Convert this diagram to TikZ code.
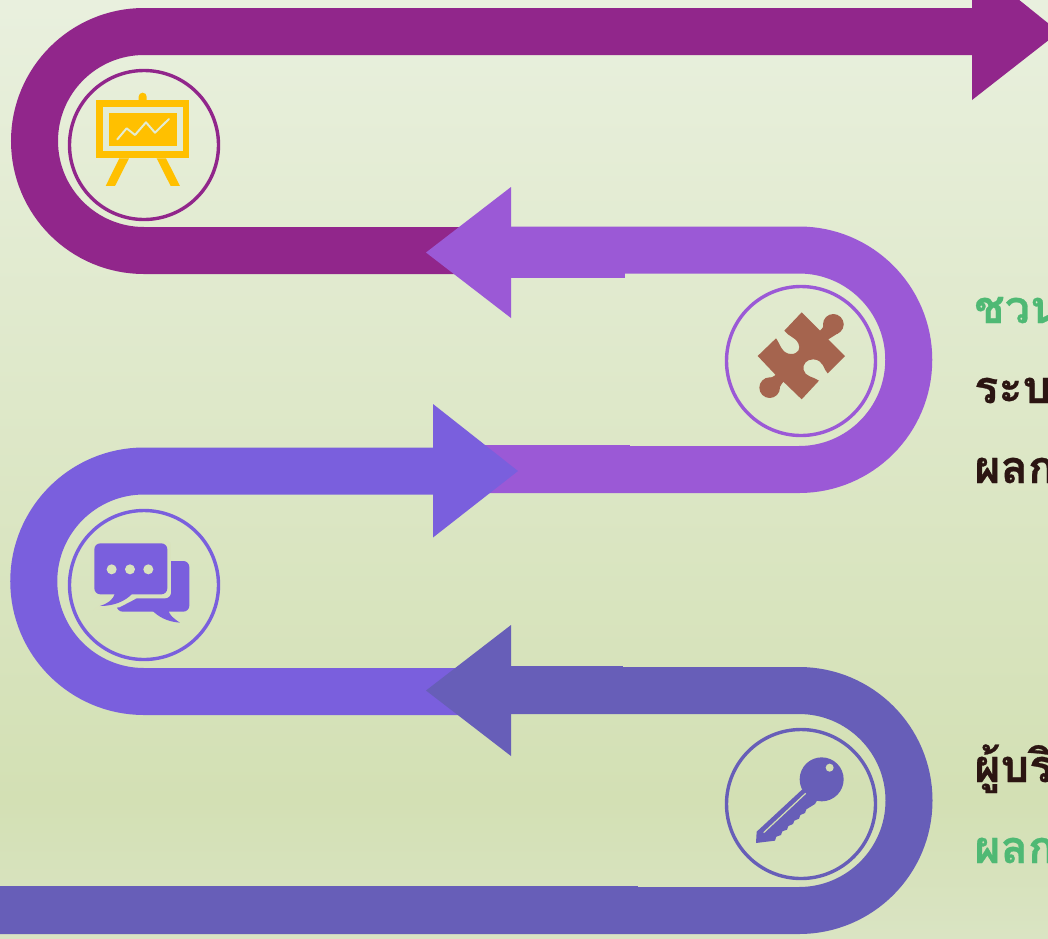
\documentclass[tikz,border=0pt]{standalone}
\usepackage{fontspec}
\newfontfamily\thaifont[Script=Thai,BoldFeatures={FakeBold=0.6}]{Loma}
\definecolor{bgA}{HTML}{E9F0DE}
\definecolor{bgB}{HTML}{D3E0B4}
\definecolor{bgC}{HTML}{DAE4C3}
\definecolor{gapA}{HTML}{D9E3BD}
\definecolor{gapB}{HTML}{D3DFB3}
\definecolor{ribA}{HTML}{91268B}
\definecolor{ribB}{HTML}{9B59D6}
\definecolor{ribC}{HTML}{7A5FDD}
\definecolor{ribD}{HTML}{675EB8}
\definecolor{iconY}{HTML}{FFC000}
\definecolor{iconB}{HTML}{A5644E}
\definecolor{txtG}{HTML}{4FB974}
\definecolor{txtD}{HTML}{2B1512}
\tikzset{
  band/.style={line width=47pt,line cap=butt},
  ring/.style={circle,draw,line width=3.4pt,minimum size=149pt,inner sep=0pt},
  lab/.style={anchor=base west,font=\thaifont\bfseries\fontsize{45}{45}\selectfont,inner sep=0pt},
  zoomed/.style={shift={#1},x=0.3333pt,y=-0.3333pt},
}
\begin{document}
\begin{tikzpicture}[x=1pt,y=-1pt]
\useasboundingbox (0,0) rectangle (1048,938);
\clip (0,0) rectangle (1048,938);
\shade[top color=bgA,bottom color=bgB] (0,0) rectangle (1048,800);
\shade[top color=bgB,bottom color=bgC] (0,800) rectangle (1048,938);
% ribbon 1
\coordinate (a1) at (1000,31.5);
\coordinate (a2) at (470,250.5);
\draw[band,ribA] (a1) -- (144,31.5) arc[start angle=-90,end angle=-270,radius=109.5] -- (a2);
\fill[ribA] (972,-38) -- (1059,32) -- (972,100) -- cycle;
% ribbon 2
\coordinate (b1) at (500,250);
\coordinate (b2) at (470,469.5);
\draw[band,ribB] (b1) -- (799,250) arc[start angle=-90,end angle=90,radius=109.75] -- (b2);
\fill[ribB] (500,226.5) rectangle (625,278);
\fill[ribB] (470,445) rectangle (630,493);
\fill[ribB] (511,187) -- (426,252.5) -- (511,318) -- cycle;
% ribbon 3
\coordinate (c1) at (450,471);
\coordinate (c2) at (470,691.5);
\draw[band,ribC] (c1) -- (144,471) arc[start angle=-90,end angle=-270,radius=110.25] -- (c2);
\fill[ribC] (433,404) -- (518,471) -- (433,537.5) -- cycle;
% ribbon 4
\coordinate (d1) at (500,690.5);
\coordinate (d2) at (0,910.5);
\draw[band,ribD] (d1) -- (799,690.5) arc[start angle=-90,end angle=90,radius=110] -- (d2);
\fill[ribD] (500,666) rectangle (623,712);
\fill[ribD] (0,886) rectangle (638,934);
\fill[ribD] (511,625) -- (426,690.5) -- (511,756) -- cycle;
% rings
\node[ring,draw=ribA] (r1) at (144,145) {};
\node[ring,draw=ribB] (r2) at (801,361) {};
\node[ring,draw=ribC] (r3) at (144,585) {};
\node[ring,draw=ribD] (r4) at (801,804) {};
% easel icon
\begin{scope}[zoomed={(60,60)}]
\fill[iconY] (107,120) rectangle (388,295);
\fill[bgA!75!bgB] (130,142) rectangle (368,272);
\fill[iconY] (147,158) rectangle (350,257);
\fill[iconY] (236,125) -- (236,110) arc[start angle=180,end angle=360,radius=12] -- (260,125) -- cycle;
\draw[bgA!75!bgB,line width=2pt,line cap=round,line join=round] (172,238) -- (200,205) -- (225,225) -- (258,187) -- (285,218) -- (327,177);
\fill[iconY] (178,295) -- (207,295) -- (165,378) -- (137,378) -- cycle;
\fill[iconY] (290,295) -- (318,295) -- (360,378) -- (332,378) -- cycle;
\end{scope}
% puzzle icon
\begin{scope}[zoomed={(715,280)}]
\fill[iconB] (355,133) circle[radius=31];
\fill[iconB] (164,323) circle[radius=31];
\fill[iconB] (260,97) -- (315,152) .. controls (330,140) and (325,130) .. (328,122)
 -- (384,125) .. controls (392,150) and (360,165) .. (340,178)
 -- (390,228) -- (338,280) .. controls (325,270) and (328,240) .. (295,238)
 .. controls (275,238) and (262,252) .. (266,270) .. controls (270,290) and (295,290) .. (312,302)
 -- (260,358) -- (205,305) .. controls (195,315) and (190,340) .. (170,352)
 -- (140,308) .. controls (150,295) and (170,295) .. (182,285)
 -- (128,228) -- (183,175) .. controls (195,190) and (200,222) .. (228,222)
 .. controls (250,222) and (258,205) .. (250,190) .. controls (240,170) and (220,170) .. (208,152) -- cycle;
\end{scope}
% chat icon
\begin{scope}[zoomed={(60,500)}]
\fill[ribC,rounded corners=6pt] (170,183) rectangle (388,335);
\fill[ribC] (275,330) .. controls (295,350) and (320,365) .. (360,368) .. controls (340,355) and (328,345) .. (325,330) -- cycle;
\fill[gapA,rounded corners=6pt] (92,120) rectangle (333,295);
\fill[gapA] (150,290) -- (100,330) -- (178,322) -- (230,295) -- cycle;
\fill[ribC,rounded corners=6pt] (103,130) rectangle (322,283);
\fill[ribC] (165,280) .. controls (160,300) and (140,312) .. (120,318) .. controls (160,318) and (195,305) .. (218,280) -- cycle;
\foreach \px in {155,210,265} \fill[gapA] (\px,208) circle[radius=15];
\end{scope}
% key icon
\begin{scope}[zoomed={(715,720)}]
\fill[ribD] (320,178) circle[radius=66];
\fill[ribD] (262,208) -- (125,335) -- (123,369) -- (180,362) -- (184,350) -- (198,345) -- (202,334) -- (216,329) -- (220,318) -- (234,312) -- (238,302) -- (252,296) -- (256,285) -- (270,279) -- (274,268) -- (300,252) -- (310,235) -- cycle;
\fill[gapB] (344,143) circle[radius=12];
\draw[gapB,line width=1.2pt] (146,338) -- (272,220);
\end{scope}
% texts
\node[lab,text=txtG] (t1) at (974,323) {ชวน};
\node[lab,text=txtD] (t2) at (974,403) {ระบ};
\node[lab,text=txtD] (t3) at (974,483) {ผลก};
\node[lab,text=txtD] (t4) at (974,782) {ผู้บริ};
\node[lab,text=txtG] (t5) at (974,863) {ผลก};
\end{tikzpicture}
\end{document}
